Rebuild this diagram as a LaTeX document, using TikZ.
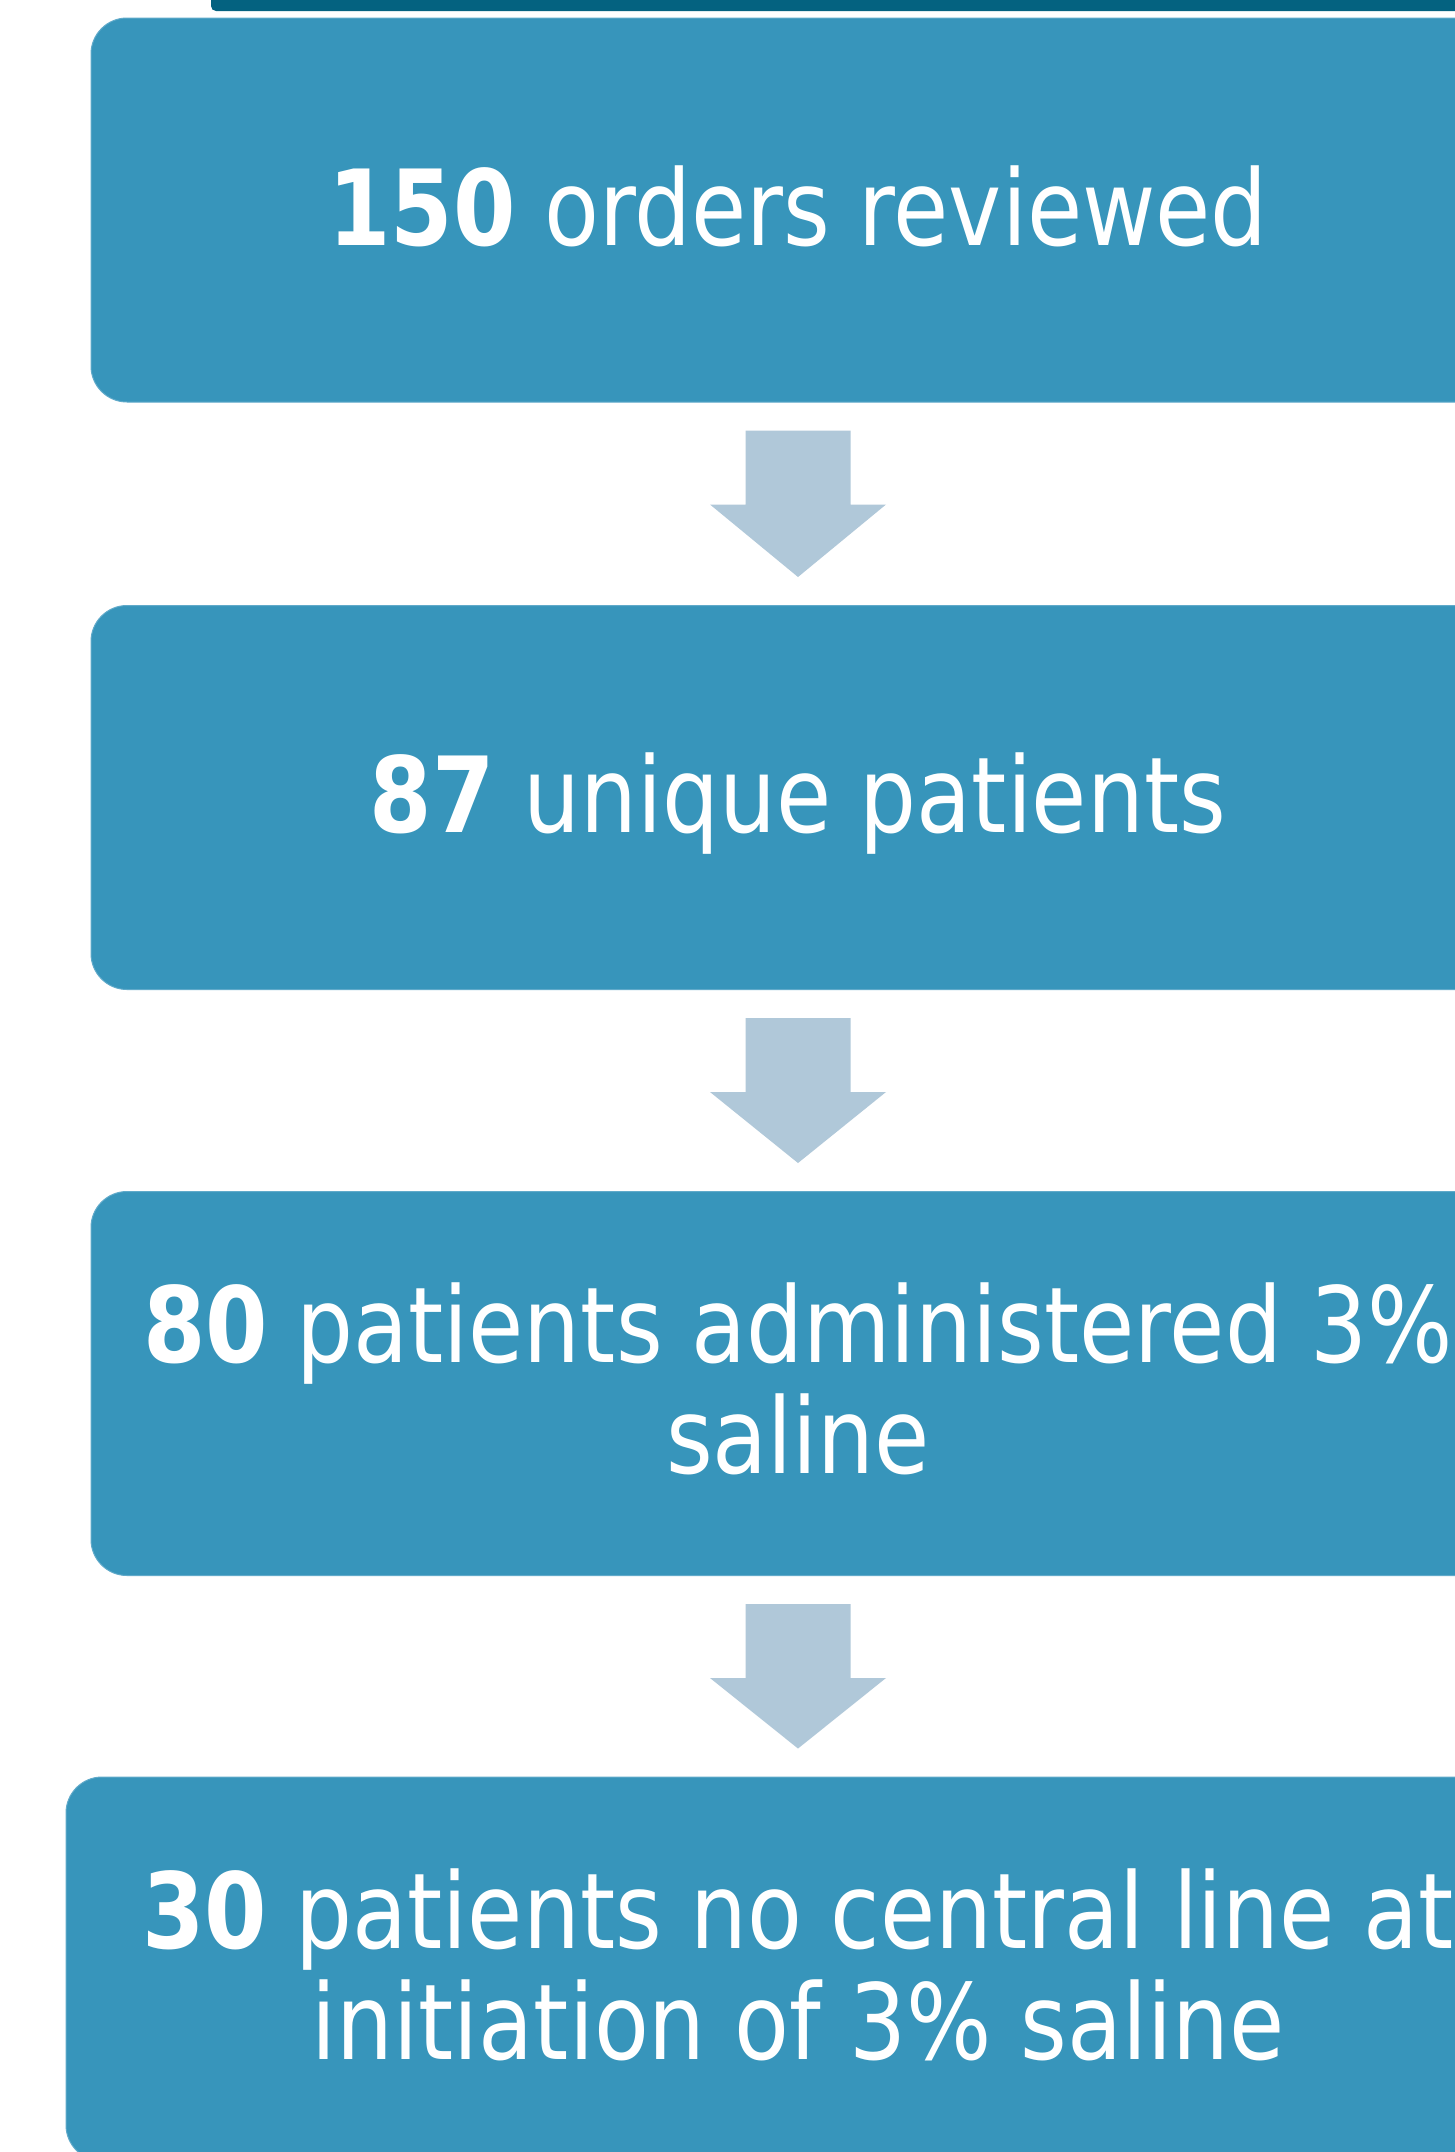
\documentclass[tikz,border=0pt]{standalone}
\usepackage{fontspec}
\setmainfont{DejaVu Sans}[FakeStretch=0.855]
\usetikzlibrary{calc}
\definecolor{boxblue}{RGB}{55,149,187}
\definecolor{boxedge}{RGB}{96,170,202}
\definecolor{arrowgrey}{RGB}{176,200,217}
\definecolor{topbar}{RGB}{4,98,128}

% block arrow pointing down from one stage box to the next
\newcommand\flowarrow[2]{%
  \fill[arrowgrey]
    ($(#1.south)+(-52.5,-28)$) -- ($(#1.south)+(52.5,-28)$) --
    ($(#1.south)+(52.5,-102)$) -- ($(#1.south)+(88,-102)$) --
    ($(#2.north)+(0,28)$) --
    ($(#1.south)+(-88,-102)$) -- ($(#1.south)+(-52.5,-102)$) -- cycle;}
% extra depth below the last line so two-line texts sit centred
\newcommand\lowstrut{\rule[-10pt]{0pt}{10pt}}

\begin{document}
\begin{tikzpicture}[x=1pt,y=1pt,
  stagebox/.style={fill=boxblue, draw=boxedge, line width=1pt,
    rounded corners=36pt, minimum height=384pt, inner sep=0pt,
    text=white, align=center, font=\fontsize{105}{111}\selectfont},
  oneline/.style={text height=70pt, text depth=0pt}]
\useasboundingbox (0,0) rectangle (1455,-2152);
\fill[white] (0,0) rectangle (1455,-2152);
\clip (0,0) rectangle (1455,-2152);

% lower edge of the heading bar
\fill[topbar, rounded corners=5pt] (211,40) rectangle (1520,-11);

\node[stagebox, oneline, minimum width=1414pt] (orders) at (798,-210)
  {\textbf{150} orders reviewed};
\node[stagebox, oneline, minimum width=1414pt] (unique) at (798,-797.5)
  {\textbf{87} unique patients};
\node[stagebox, minimum width=1414pt] (admin) at (798,-1383.5)
  {\textbf{80} patients administered 3\%\\saline\lowstrut};
\node[stagebox, minimum width=1464pt] (noline) at (798,-1969)
  {\textbf{30} patients no central line at\\initiation of 3\% saline\lowstrut};

\flowarrow{orders}{unique}
\flowarrow{unique}{admin}
\flowarrow{admin}{noline}
\end{tikzpicture}
\end{document}
